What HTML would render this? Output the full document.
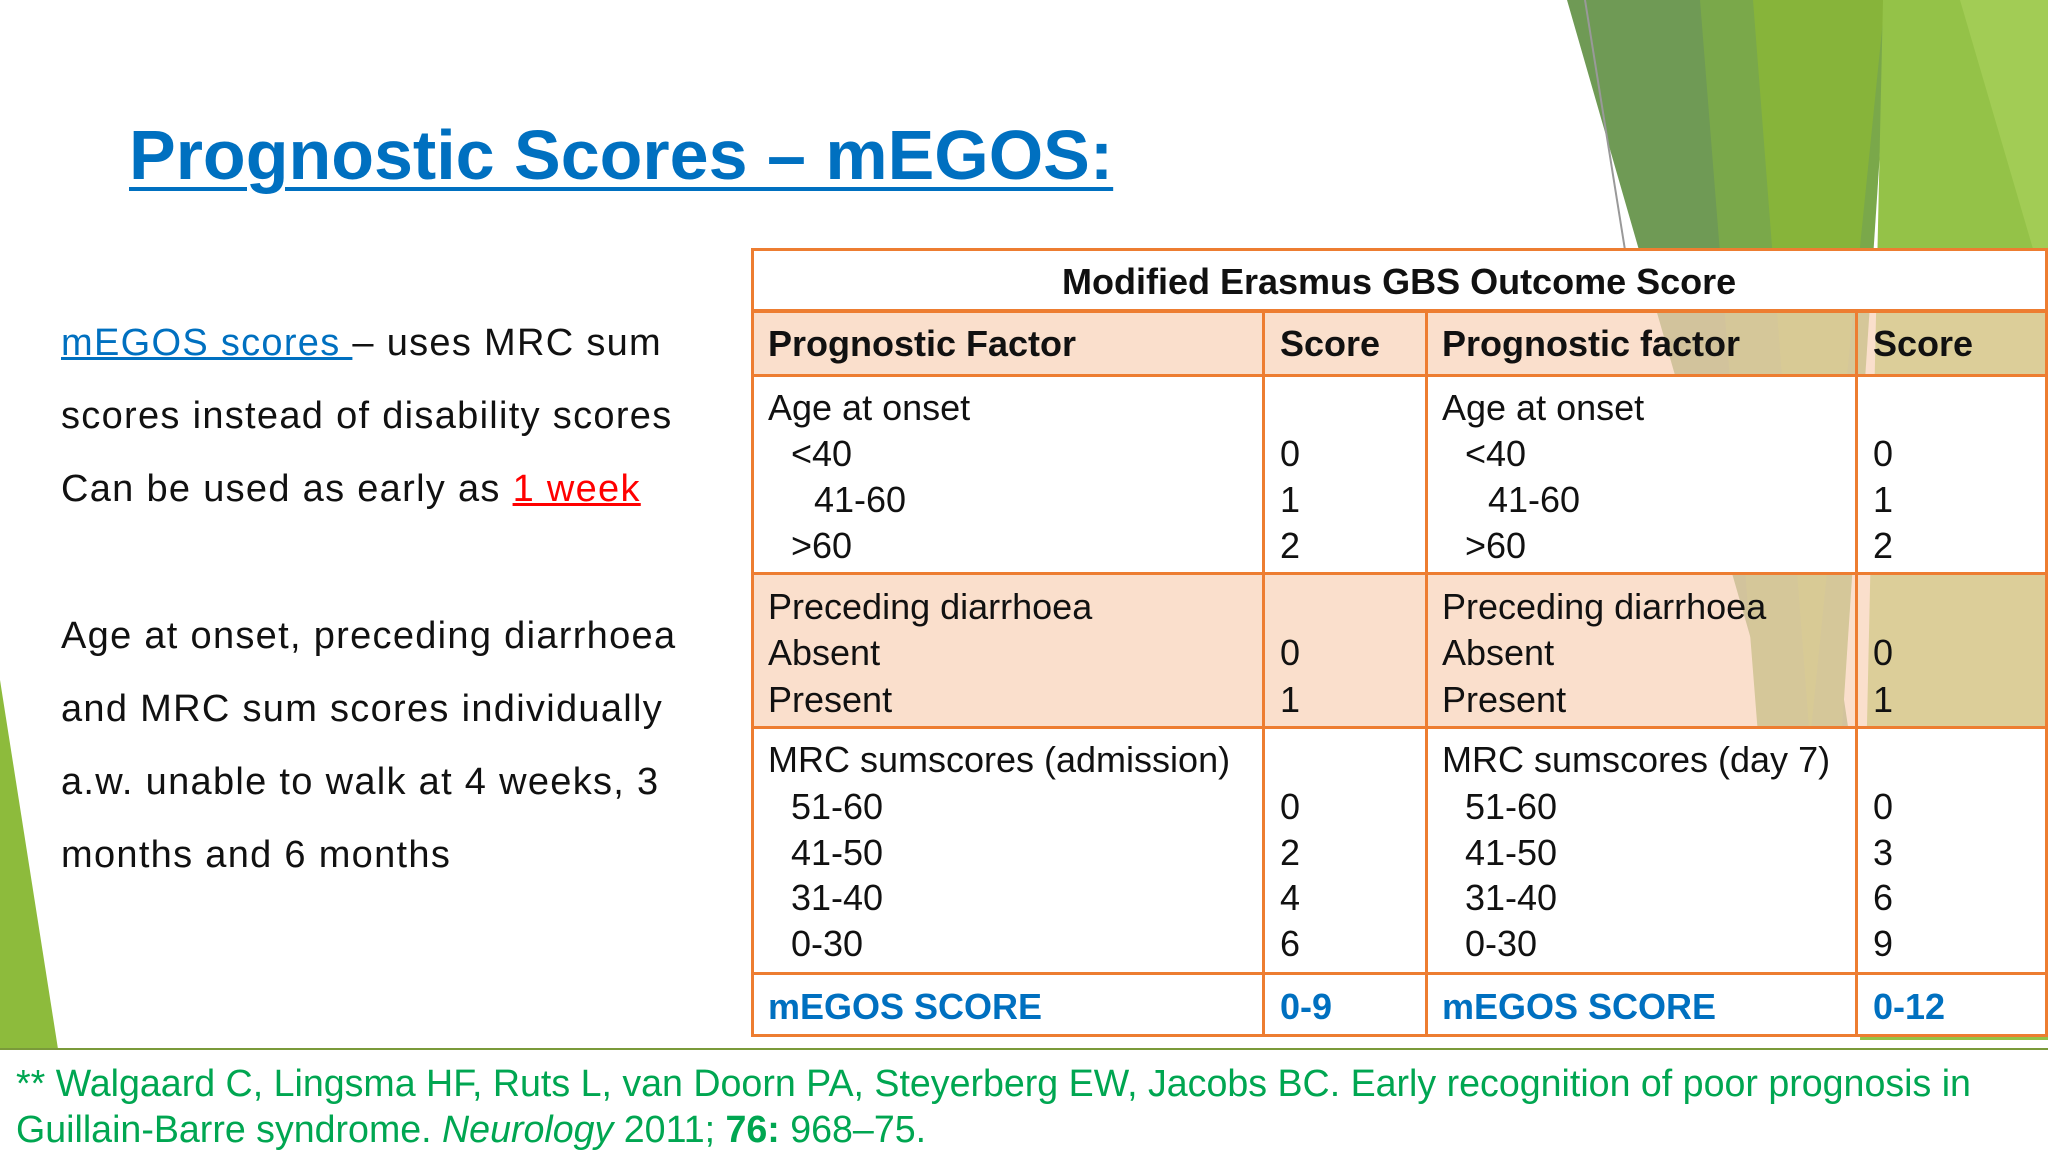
<!DOCTYPE html>
<html><head><meta charset="utf-8">
<style>
html,body{margin:0;padding:0}
body{width:2048px;height:1152px;position:relative;overflow:hidden;background:#fff;font-family:"Liberation Sans",sans-serif}
.t{position:absolute;white-space:nowrap;color:#111;line-height:1}
.tb{font-size:36px}
.b{font-weight:bold}
.lt{font-size:38px;letter-spacing:1.3px}
.cell{position:absolute;box-sizing:border-box}
.hl{position:absolute;background:#ed7d31;height:3px}
.vl{position:absolute;background:#ed7d31;width:3px}
</style></head><body>
<svg style="position:absolute;left:0;top:0" width="2048" height="1152">
<polygon points="1567,0 1740,0 1850,740 1780,740" fill="#6f9a55"/>
<polygon points="1700,0 1890,0 1840,760 1760,760" fill="#7aa84a"/>
<polygon points="1753,0 1885,0 1810,740" fill="#87b43a"/>
<polygon points="1883,0 2048,0 2048,1040 1860,1040" fill="#94c248"/>
<polygon points="1960,0 2048,0 2048,300" fill="#a2cc55"/>
<line x1="1585" y1="0" x2="1625" y2="250" stroke="#999" stroke-width="2"/>
<polygon points="0,680 58,1049 0,1049" fill="#8dbb3c"/>
</svg>
<div class="t b" style="left:129px;top:120px;font-size:70px;color:#0070c0;text-decoration:underline;text-decoration-thickness:4px;text-underline-offset:8px">Prognostic Scores – mEGOS:</div>

<div>
<div class="t lt" style="left:61px;top:324px"><span style="color:#0070c0;text-decoration:underline">mEGOS scores </span>– uses MRC sum</div>
<div class="t lt" style="left:61px;top:397px">scores instead of disability scores</div>
<div class="t lt" style="left:61px;top:470px">Can be used as early as <span style="color:#f00;text-decoration:underline">1 week</span></div>
<div class="t lt" style="left:61px;top:617px">Age at onset, preceding diarrhoea</div>
<div class="t lt" style="left:61px;top:690px">and MRC sum scores individually</div>
<div class="t lt" style="left:61px;top:763px">a.w. unable to walk at 4 weeks, 3</div>
<div class="t lt" style="left:61px;top:836px">months and 6 months</div>
</div>

<div>
<div class="cell" style="left:752px;top:249px;width:1294px;height:62px;background:#fff"></div>
<div class="cell" style="left:752px;top:311px;width:1294px;height:64px;background:rgba(248,210,185,0.72)"></div>
<div class="cell" style="left:752px;top:375px;width:1294px;height:198px;background:#fff"></div>
<div class="cell" style="left:752px;top:573px;width:1294px;height:154px;background:rgba(248,210,185,0.72)"></div>
<div class="cell" style="left:752px;top:727px;width:1294px;height:309px;background:#fff"></div>
<div class="hl" style="left:751px;top:248px;width:1297px"></div>
<div class="hl" style="left:751px;top:309px;width:1297px;height:4px"></div>
<div class="hl" style="left:751px;top:374px;width:1297px"></div>
<div class="hl" style="left:751px;top:572px;width:1297px"></div>
<div class="hl" style="left:751px;top:726px;width:1297px"></div>
<div class="hl" style="left:751px;top:972px;width:1297px"></div>
<div class="hl" style="left:751px;top:1034px;width:1297px"></div>
<div class="vl" style="left:751px;top:248px;height:789px"></div>
<div class="vl" style="left:2045px;top:248px;height:789px"></div>
<div class="vl" style="left:1262px;top:311px;height:726px"></div>
<div class="vl" style="left:1425px;top:311px;height:726px"></div>
<div class="vl" style="left:1855px;top:311px;height:726px"></div>

<div class="t tb b" style="left:1062px;top:264px">Modified Erasmus GBS Outcome Score</div>
<div class="t tb b" style="left:768px;top:326px">Prognostic Factor</div>
<div class="t tb b" style="left:1280px;top:326px">Score</div>
<div class="t tb b" style="left:1442px;top:326px">Prognostic factor</div>
<div class="t tb b" style="left:1873px;top:326px">Score</div>

<div class="t tb" style="left:768px;top:390px">Age at onset</div>
<div class="t tb" style="left:791px;top:436px">&lt;40</div>
<div class="t tb" style="left:814px;top:482px">41-60</div>
<div class="t tb" style="left:791px;top:528px">&gt;60</div>
<div class="t tb" style="left:1280px;top:436px">0</div>
<div class="t tb" style="left:1280px;top:482px">1</div>
<div class="t tb" style="left:1280px;top:528px">2</div>
<div class="t tb" style="left:1442px;top:390px">Age at onset</div>
<div class="t tb" style="left:1465px;top:436px">&lt;40</div>
<div class="t tb" style="left:1488px;top:482px">41-60</div>
<div class="t tb" style="left:1465px;top:528px">&gt;60</div>
<div class="t tb" style="left:1873px;top:436px">0</div>
<div class="t tb" style="left:1873px;top:482px">1</div>
<div class="t tb" style="left:1873px;top:528px">2</div>

<div class="t tb" style="left:768px;top:589px">Preceding diarrhoea</div>
<div class="t tb" style="left:768px;top:635px">Absent</div>
<div class="t tb" style="left:768px;top:682px">Present</div>
<div class="t tb" style="left:1280px;top:635px">0</div>
<div class="t tb" style="left:1280px;top:682px">1</div>
<div class="t tb" style="left:1442px;top:589px">Preceding diarrhoea</div>
<div class="t tb" style="left:1442px;top:635px">Absent</div>
<div class="t tb" style="left:1442px;top:682px">Present</div>
<div class="t tb" style="left:1873px;top:635px">0</div>
<div class="t tb" style="left:1873px;top:682px">1</div>

<div class="t tb" style="left:768px;top:742px">MRC sumscores (admission)</div>
<div class="t tb" style="left:791px;top:789px">51-60</div>
<div class="t tb" style="left:791px;top:835px">41-50</div>
<div class="t tb" style="left:791px;top:880px">31-40</div>
<div class="t tb" style="left:791px;top:926px">0-30</div>
<div class="t tb" style="left:1280px;top:789px">0</div>
<div class="t tb" style="left:1280px;top:835px">2</div>
<div class="t tb" style="left:1280px;top:880px">4</div>
<div class="t tb" style="left:1280px;top:926px">6</div>
<div class="t tb" style="left:1442px;top:742px">MRC sumscores (day 7)</div>
<div class="t tb" style="left:1465px;top:789px">51-60</div>
<div class="t tb" style="left:1465px;top:835px">41-50</div>
<div class="t tb" style="left:1465px;top:880px">31-40</div>
<div class="t tb" style="left:1465px;top:926px">0-30</div>
<div class="t tb" style="left:1873px;top:789px">0</div>
<div class="t tb" style="left:1873px;top:835px">3</div>
<div class="t tb" style="left:1873px;top:880px">6</div>
<div class="t tb" style="left:1873px;top:926px">9</div>

<div class="t tb b" style="left:768px;top:989px;color:#0070c0">mEGOS SCORE</div>
<div class="t tb b" style="left:1280px;top:989px;color:#0070c0">0-9</div>
<div class="t tb b" style="left:1442px;top:989px;color:#0070c0">mEGOS SCORE</div>
<div class="t tb b" style="left:1873px;top:989px;color:#0070c0">0-12</div>
</div>

<div style="position:absolute;left:0;top:1048px;width:2048px;height:104px;background:#fff;border-top:2px solid #7a9a3a;box-sizing:border-box">
<div class="t" style="left:16px;top:15px;font-size:37.6px;color:#00a651">** Walgaard C, Lingsma HF, Ruts L, van Doorn PA, Steyerberg EW, Jacobs BC. Early recognition of poor prognosis in</div>
<div class="t" style="left:16px;top:61px;font-size:37.6px;color:#00a651">Guillain-Barre syndrome. <i>Neurology</i> 2011; <b>76:</b> 968–75.</div>
</div>
</body></html>
